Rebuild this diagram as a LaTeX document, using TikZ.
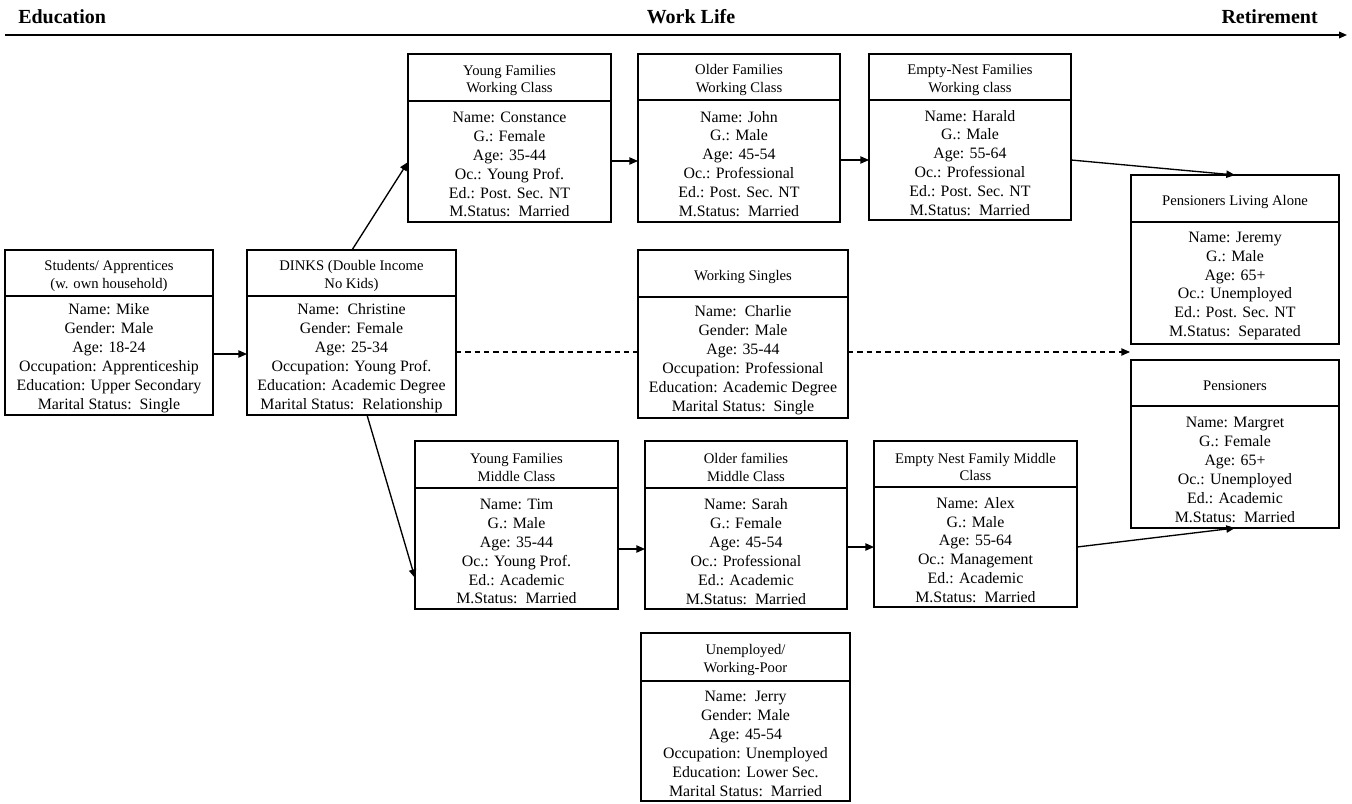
\documentclass[tikz,border=0pt]{standalone}
\usepackage{fontspec}
\setmainfont{Liberation Serif}
\usetikzlibrary{arrows.meta,calc}
\tikzset{
  pboxframe/.style={draw, line width=1.1pt, inner sep=0pt, outer sep=0pt},
  divline/.style={line width=1.1pt},
  headtext/.style={align=center, inner sep=0pt, font=\fontsize{11}{13.2}\selectfont},
  bodytext/.style={align=center, inner sep=0pt, font=\fontsize{11.9}{14.2}\selectfont},
  toplabel/.style={inner sep=0pt, font=\fontsize{15}{18}\selectfont\bfseries},
  conn/.style={line width=1pt, -{Triangle[length=6.5pt,width=5.5pt]}},
  dashconn/.style={line width=1pt, dash pattern=on 4pt off 3pt},
  axisline/.style={line width=1.1pt, -{Triangle[length=6pt,width=5pt]}}
}
\newcommand\pbox[8]{%
  \node[pboxframe, minimum width={(#4-#2)*0.75pt}, minimum height={(#5-#3)*0.75pt}] (#1) at ({(#2+#4)/2},{(#3+#5)/2}) {};
  \draw[divline] ({#2},{#6}) -- ({#4},{#6});
  \node[headtext] (#1-h) at ({(#2+#4)/2},{(#3+#6)/2+3}) {#7};
  \node[bodytext] (#1-b) at ({(#2+#4)/2},{(#6+#5)/2+3}) {#8};
}
\begin{document}
\begin{tikzpicture}[x=0.75pt,y=-0.75pt]
\useasboundingbox (0,0) rectangle (1352,803);
% timeline
\node[toplabel, anchor=base west] (edu) at (18,23) {Education};
\node[toplabel, anchor=base] (work) at (691,23) {Work Life};
\node[toplabel, anchor=base east] (ret) at (1318,23) {Retirement};
\coordinate (axs) at (5,35);
\coordinate (axe) at (1347,35);
\draw[axisline] (axs) -- (axe);
% boxes
\pbox{stud}{5}{250}{213}{415}{296}{Students/ Apprentices\\(w. own household)}{Name: Mike\\Gender: Male\\Age: 18-24\\Occupation: Apprenticeship\\Education: Upper Secondary\\Marital Status:\ \ Single}
\pbox{dinks}{247}{250}{456}{415}{296}{DINKS (Double Income\\No Kids)}{Name:\ \ Christine\\Gender: Female\\Age: 25-34\\Occupation: Young Prof.\\Education: Academic Degree\\Marital Status:\ \ Relationship}
\pbox{yfwc}{408}{54}{611}{222}{101}{Young Families\\Working Class}{Name: Constance\\G.: Female\\Age: 35-44\\Oc.: Young Prof.\\Ed.: Post. Sec. NT\\M.Status:\ \ Married}
\pbox{ofwc}{638}{54}{840}{222}{100}{Older Families\\Working Class}{Name: John\\G.: Male\\Age: 45-54\\Oc.: Professional\\Ed.: Post. Sec. NT\\M.Status:\ \ Married}
\pbox{enwc}{869}{54}{1071}{220}{100}{Empty-Nest Families\\Working class}{Name: Harald\\G.: Male\\Age: 55-64\\Oc.: Professional\\Ed.: Post. Sec. NT\\M.Status:\ \ Married}
\pbox{pla}{1131}{175}{1339}{344}{222}{Pensioners Living Alone}{Name: Jeremy\\G.: Male\\Age: 65+\\Oc.: Unemployed\\Ed.: Post. Sec. NT\\M.Status:\ \ Separated}
\pbox{ws}{638}{250}{848}{418}{297}{Working Singles}{Name:\ \ Charlie\\Gender: Male\\Age: 35-44\\Occupation: Professional\\Education: Academic Degree\\Marital Status:\ \ Single}
\pbox{pen}{1131}{360}{1339}{528}{406}{Pensioners}{Name: Margret\\G.: Female\\Age: 65+\\Oc.: Unemployed\\Ed.: Academic\\M.Status:\ \ Married}
\pbox{yfmc}{415}{441}{618}{609}{488}{Young Families\\Middle Class}{Name: Tim\\G.: Male\\Age: 35-44\\Oc.: Young Prof.\\Ed.: Academic\\M.Status:\ \ Married}
\pbox{ofmc}{645}{441}{847}{609}{488}{Older families\\Middle Class}{Name: Sarah\\G.: Female\\Age: 45-54\\Oc.: Professional\\Ed.: Academic\\M.Status:\ \ Married}
\pbox{enmc}{874}{441}{1077}{607}{487}{Empty Nest Family Middle\\Class}{Name: Alex\\G.: Male\\Age: 55-64\\Oc.: Management\\Ed.: Academic\\M.Status:\ \ Married}
\pbox{unemp}{641}{633}{850}{801}{681}{Unemployed/\\Working-Poor}{Name:\ \ Jerry\\Gender: Male\\Age: 45-54\\Occupation: Unemployed\\Education: Lower Sec.\\Marital Status:\ \ Married}
% connectors
\draw[conn] (stud.east |- 0,354) -- (dinks.west |- 0,354);
\draw[conn] (dinks.north -| 352,0) -- (yfwc.west |- 0,162);
\draw[conn] (dinks.south -| 367,0) -- (yfmc.west |- 0,578);
\draw[conn] (yfwc.east |- 0,161) -- (ofwc.west |- 0,161);
\draw[conn] (ofwc.east |- 0,160) -- (enwc.west |- 0,160);
\draw[conn] (enwc.east |- 0,160) -- (pla.north -| 1235,0);
\draw[dashconn] (dinks.east |- 0,352) -- (ws.west |- 0,352);
\coordinate (gap) at (1130,352);
\draw[dashconn, -{Triangle[length=6.5pt,width=5.5pt]}] (ws.east |- 0,352) -- (gap);
\draw[conn] (yfmc.east |- 0,549) -- (ofmc.west |- 0,549);
\draw[conn] (ofmc.east |- 0,547) -- (enmc.west |- 0,547);
\draw[conn] (enmc.east |- 0,547) -- (pen.south -| 1235,0);
\end{tikzpicture}
\end{document}
